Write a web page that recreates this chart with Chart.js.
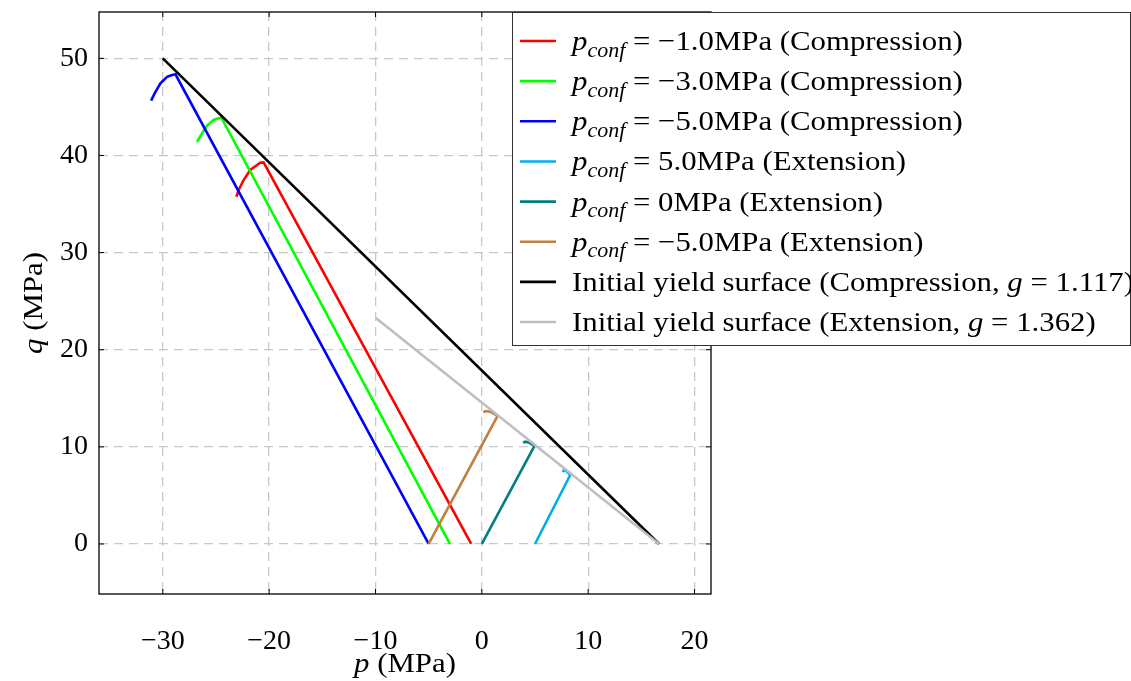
<!DOCTYPE html>
<html><head><meta charset="utf-8">
<script src="https://cdn.jsdelivr.net/npm/chart.js@4"></script>
<style>html,body{margin:0;padding:0;background:#fff}canvas{display:block}</style>
</head><body>
<canvas id="c" width="1131" height="681"></canvas>
<script>
// ---- data ----
const xTicks = [-30, -20, -10, 0, 10, 20];
const yTicks = [0, 10, 20, 30, 40, 50];

const redP = [-1.0, -20.52, -20.85, -21.14, -21.77, -22.4, -22.87, -23.08];
const redQ = [0, 39.29, 39.25, 39.02, 38.5, 37.47, 36.44, 35.75];
const greenP = [-3.0, -24.49, -24.85, -25.22, -25.84, -26.31, -26.78];
const greenQ = [0, 43.89, 43.8, 43.65, 43.06, 42.28, 41.41];
const blueP = [-5.0, -28.81, -29.2, -29.6, -30.22, -30.69, -31.1];
const blueQ = [0, 48.35, 48.25, 48.1, 47.43, 46.56, 45.64];
const cyanP = [5.0, 8.31, 7.95, 7.74, 7.6];
const cyanQ = [0, 7.1, 7.5, 7.62, 7.41];
const tealP = [0.0, 4.95, 4.4, 4.08, 3.89];
const tealQ = [0, 10.09, 10.45, 10.53, 10.4];
const brownP = [-5.0, 1.48, 0.79, 0.32, 0.16];
const brownQ = [0, 13.18, 13.62, 13.69, 13.52];
const yieldCompP = [-30, 16.67];
const yieldCompQ = [50, 0];
const yieldExtP = [-10, 16.67];
const yieldExtQ = [23.3, 0];

const seriesLabels = [
  "$p$_{conf} = −1.0MPa (Compression)",
  "$p$_{conf} = −3.0MPa (Compression)",
  "$p$_{conf} = −5.0MPa (Compression)",
  "$p$_{conf} = 5.0MPa (Extension)",
  "$p$_{conf} = 0MPa (Extension)",
  "$p$_{conf} = −5.0MPa (Extension)",
  "Initial yield surface (Compression, $g$ = 1.117)",
  "Initial yield surface (Extension, $g$ = 1.362)"
];
const xTitle = "$p$ (MPa)";
const yTitle = "$q$ (MPa)";

const seriesP = [redP, greenP, blueP, cyanP, tealP, brownP, yieldCompP, yieldExtP];
const seriesQ = [redQ, greenQ, blueQ, cyanQ, tealQ, brownQ, yieldCompQ, yieldExtQ];
const colors = ['#ff0000', '#00ff00', '#0000ff', '#00aeef', '#008080', '#bf8040', '#000000', '#bfbfbf'];

const FONT = "'Liberation Serif', 'Times New Roman', serif";
const STRETCH = 1.1;
const FS = 28;

function fmt(v) { return v < 0 ? '\u2212' + Math.abs(v) : String(v); }

function parse(s) {
  const out = [];
  s.split(/(\$[^$]+\$|_\{[^}]+\})/).forEach(t => {
    if (!t) return;
    if (t[0] === '$') out.push({ t: t.slice(1, -1), it: true });
    else if (t[0] === '_') out.push({ t: t.slice(2, -1), it: true, sub: true });
    else out.push({ t: t });
  });
  return out;
}

function drawRich(ctx, s, x, y, size, align) {
  const segs = parse(s);
  const fontOf = g => (g.it ? 'italic ' : '') + (g.sub ? Math.round(size * 0.72) : size) + 'px ' + FONT;
  let w = 0;
  segs.forEach(g => { ctx.font = fontOf(g); g.w = ctx.measureText(g.t).width; w += g.w; });
  ctx.save();
  ctx.translate(x, y);
  ctx.scale(STRETCH, 1);
  let cx = align === 'center' ? -w / 2 : 0;
  ctx.textBaseline = 'alphabetic';
  ctx.textAlign = 'left';
  segs.forEach(g => {
    ctx.font = fontOf(g);
    ctx.fillText(g.t, cx, g.sub ? size * 0.24 : 0);
    cx += g.w;
  });
  ctx.restore();
}

const deco = {
  id: 'deco',
  afterDatasetsDraw(chart) {
    const { ctx, chartArea: a, scales: { x, y } } = chart;
    ctx.save();
    ctx.fillStyle = '#000';
    ctx.strokeStyle = '#000';
    ctx.lineWidth = 1.3;
    ctx.setLineDash([]);
    ctx.strokeRect(a.left, a.top, a.right - a.left, a.bottom - a.top);
    ctx.lineWidth = 1;
    xTicks.forEach(v => {
      const px = x.getPixelForValue(v);
      ctx.beginPath();
      ctx.moveTo(px, a.bottom); ctx.lineTo(px, a.bottom - 5);
      ctx.moveTo(px, a.top); ctx.lineTo(px, a.top + 5);
      ctx.stroke();
    });
    yTicks.forEach(v => {
      const py = y.getPixelForValue(v);
      ctx.beginPath();
      ctx.moveTo(a.left, py); ctx.lineTo(a.left + 5, py);
      ctx.moveTo(a.right, py); ctx.lineTo(a.right - 5, py);
      ctx.stroke();
    });
    drawRich(ctx, xTitle, (a.left + a.right) / 2, 672, FS, 'center');
    ctx.save();
    ctx.translate(42, (a.top + a.bottom) / 2);
    ctx.rotate(-Math.PI / 2);
    drawRich(ctx, yTitle, 0, 0, FS, 'center');
    ctx.restore();
    const lx = 512.5, ly = 12.5, lw = 618, lh = 333;
    ctx.fillStyle = '#fff';
    ctx.fillRect(lx, ly, lw, lh);
    ctx.strokeStyle = '#333';
    ctx.lineWidth = 1;
    ctx.strokeRect(lx, ly, lw, lh);
    seriesLabels.forEach((lab, i) => {
      const cy = 41 + i * 40.15;
      ctx.strokeStyle = colors[i];
      ctx.lineWidth = 2.6;
      ctx.beginPath();
      ctx.moveTo(520, cy); ctx.lineTo(556, cy);
      ctx.stroke();
      ctx.fillStyle = '#000';
      drawRich(ctx, lab, 572, cy + 9, FS, 'left');
    });
    ctx.restore();
  }
};

const datasets = seriesP.map((P, i) => ({
  label: seriesLabels[i],
  data: P.map((p, k) => ({ x: p, y: seriesQ[i][k] })),
  showLine: true,
  borderColor: colors[i],
  backgroundColor: colors[i],
  borderWidth: 2.6,
  pointRadius: 0,
  fill: false,
  tension: 0,
  order: seriesP.length - i
}));

const tickFont = { family: FONT, size: FS };

new Chart(document.getElementById('c'), {
  type: 'scatter',
  data: { datasets },
  plugins: [deco],
  options: {
    responsive: false,
    animation: false,
    layout: { padding: { left: 0, right: 420, top: 12, bottom: 0 } },
    plugins: { legend: { display: false }, tooltip: { enabled: false } },
    scales: {
      x: {
        type: 'linear', min: -36.0, max: 21.55,
        afterBuildTicks: s => { s.ticks = xTicks.map(v => ({ value: v })); },
        afterFit: s => { s.height = 87; s.paddingLeft = 0; s.paddingRight = 0; },
        grid: { color: '#c8c8c8', lineWidth: 1.3, drawTicks: false, borderDash: [9, 6] },
        border: { display: false, dash: [9, 6] },
        ticks: { font: tickFont, color: '#000', padding: 31, maxRotation: 0, autoSkip: false, callback: v => fmt(v) }
      },
      y: {
        type: 'linear', min: -5.15, max: 54.77,
        afterBuildTicks: s => { s.ticks = yTicks.map(v => ({ value: v })); },
        afterFit: s => { s.width = 99; s.paddingTop = 0; s.paddingBottom = 0; },
        grid: { color: '#c8c8c8', lineWidth: 1.3, drawTicks: false, borderDash: [9, 6] },
        border: { display: false, dash: [9, 6] },
        ticks: { font: tickFont, color: '#000', padding: 11, autoSkip: false, callback: v => fmt(v) }
      }
    }
  }
});
</script>
</body></html>
